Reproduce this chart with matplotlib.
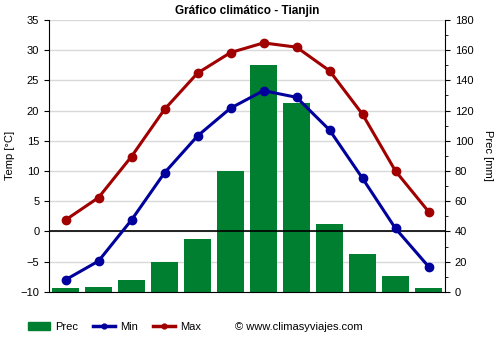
import numpy as np
import matplotlib.pyplot as plt
from matplotlib.patches import Patch
from matplotlib.lines import Line2D

plt.rcParams['font.family'] = ['Liberation Sans', 'DejaVu Sans']

# climate data for Tianjin
months = ['Ene', 'Feb', 'Mar', 'Abr', 'May', 'Jun', 'Jul', 'Ago', 'Sep', 'Oct', 'Nov', 'Dic']
prec = [2.6, 3.3, 8, 20, 35, 80, 150, 125, 45, 25, 10.6, 2.6]
t_min = [-8.0, -4.9, 1.9, 9.7, 15.8, 20.4, 23.3, 22.2, 16.8, 8.8, 0.5, -5.8]
t_max = [1.9, 5.6, 12.4, 20.2, 26.2, 29.6, 31.2, 30.5, 26.6, 19.4, 10.0, 3.3]

green = '#007f31'
blue = '#00009c'
red = '#a00000'

fig = plt.figure(figsize=(5, 3.5), dpi=100)
ax = fig.add_axes([0.098, 0.166, 0.792, 0.777])
ax2 = ax.twinx()

x = np.arange(len(months))

# bars on the precipitation axis (drawn behind)
ax2.bar(x, prec, width=0.8, color=green, zorder=2)
ax2.set_ylim(0, 180)
ax2.set_yticks(np.arange(0, 181, 20))
ax2.set_yticks(np.arange(0, 181, 10), minor=True)
ax2.grid(True, color='#d9d9d9', lw=1, zorder=0)
ax2.set_axisbelow(True)
ax2.set_ylabel('Prec [mm]', rotation=270, labelpad=14, fontsize=8)

# temperature lines on top
ax.set_zorder(ax2.get_zorder() + 1)
ax.patch.set_visible(False)
ax.axhline(0, color='black', lw=1.2, zorder=1)
ax.plot(x, t_min, color=blue, lw=2.2, marker='o', ms=6, zorder=3)
ax.plot(x, t_max, color=red, lw=2.2, marker='o', ms=6, zorder=3)
ax.set_ylim(-10, 35)
ax.set_yticks(np.arange(-10, 36, 5))
ax.set_ylabel('Temp [°C]', fontsize=8)

ax.set_xlim(-0.5, 11.5)
ax.set_xticks(x)
ax.set_xticklabels(months)
ax.set_xticks(np.arange(-0.5, 12, 1), minor=True)
ax.tick_params(axis='x', which='major', length=0, pad=6)
ax.tick_params(axis='x', which='minor', length=4, direction='out')
ax2.set_xticks(np.arange(-0.5, 12, 1))
ax2.tick_params(axis='x', length=0, labelbottom=False)
ax2.xaxis.grid(True, color='#d9d9d9', lw=1)

for a in (ax, ax2):
    a.tick_params(labelsize=8)
    a.spines['top'].set_visible(False)
ax.spines['right'].set_visible(False)
ax2.spines['left'].set_visible(False)
ax2.spines['bottom'].set_visible(False)

ax.set_title('Gráfico climático - Tianjin', fontsize=8.5, fontweight='bold', pad=4)

# legend below
handles = [Patch(color=green),
           Line2D([], [], color=blue, lw=2.5, marker='o', ms=3.5),
           Line2D([], [], color=red, lw=2.5, marker='o', ms=3.5)]
fig.legend(handles, ['Prec', 'Min', 'Max'], loc='center left',
           bbox_to_anchor=(0.035, 0.066), ncol=3, frameon=False, fontsize=8,
           handlelength=2.0, columnspacing=1.3, handletextpad=0.5)
fig.text(0.47, 0.066, '© www.climasyviajes.com', fontsize=8, va='center')

fig.savefig('out.png', dpi=100)
